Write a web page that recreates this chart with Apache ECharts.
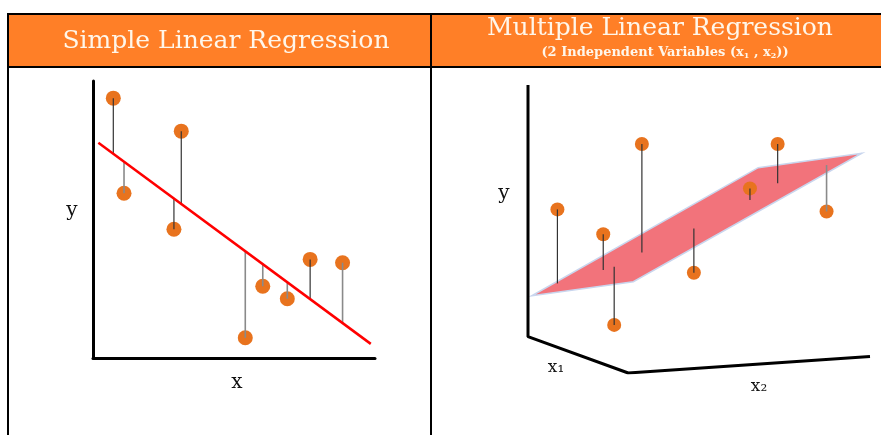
<!DOCTYPE html>
<html>
<head>
<meta charset="utf-8">
<script src="https://cdn.jsdelivr.net/npm/echarts@6/dist/echarts.min.js"></script>
<style>html,body{margin:0;padding:0;background:#fff}#c{width:881px;height:435px}</style>
</head>
<body>
<div id="c"></div>
<script>
// ---------- Simple linear regression (left panel) ----------
var simpleX = [7.2, 11.0, 31.3, 28.7, 54.0, 60.2, 68.9, 77.0, 88.5];
var simpleY = [93.8, 59.5, 81.9, 46.5, 7.3, 25.9, 21.4, 35.6, 34.4];
var simpleResidDark = [true, false, true, true, false, false, false, true, false];
var fitX = [1.9, 98.5];
var fitY = [77.7, 5.1];

// ---------- Multiple linear regression (right panel, projected view units) ----------
var axes3dX = [0, 0, 29.3, 100];
var axes3dY = [100, 12.6, 0, 5.7];
var planeX = [1.1, 30.8, 97.6, 67.3];
var planeY = [26.8, 31.7, 76.3, 71.3];
var multiX = [8.6, 22.0, 33.3, 25.2, 48.5, 64.9, 73.0, 87.3];
var multiY = [56.8, 48.2, 79.5, 16.7, 34.8, 64.1, 79.5, 56.1];
var multiFootY = [31.1, 35.8, 41.8, 36.9, 50.2, 60.1, 65.9, 72.2];

var titleLeft = 'Simple Linear Regression';
var titleRight = 'Multiple Linear Regression';
var subtitleRight = '(2 Independent Variables (x{s|1} , x{s|2}))';

var ORANGE = '#FF7F27';
var DOT = '#E8731E';
var fitSlope = (fitY[1] - fitY[0]) / (fitX[1] - fitX[0]);
function fitAt(x) { return fitY[0] + fitSlope * (x - fitX[0]); }

var simpleDots = simpleX.map(function (x, i) { return [x, simpleY[i]]; });
var simpleResid = simpleX.map(function (x, i) { return [x, simpleY[i], fitAt(x), simpleResidDark[i] ? 1 : 0]; });
var multiDots = multiX.map(function (x, i) { return [x, multiY[i]]; });
var multiResid = multiX.map(function (x, i) { return [x, multiY[i], multiFootY[i], i === 7 ? 0 : 1]; });
var planeData = planeX.map(function (x, i) { return [x, planeY[i]]; });
var axesData = axes3dX.map(function (x, i) { return [x, axes3dY[i]]; });

function residRender(params, api) {
  var p1 = api.coord([api.value(0), api.value(1)]);
  var p2 = api.coord([api.value(0), api.value(2)]);
  var dark = api.value(3) === 1;
  return {
    type: 'line',
    shape: { x1: p1[0], y1: p1[1], x2: p2[0], y2: p2[1] },
    style: { stroke: dark ? '#333' : '#8a8a8a', lineWidth: dark ? 1.2 : 1.6 }
  };
}

var chart = echarts.init(document.getElementById('c'), null, { renderer: 'canvas' });
var serif = '"DejaVu Serif", serif';
var CREAM = '#FFF6EA';
chart.setOption({
  animation: false,
  backgroundColor: '#fff',
  graphic: [
    { type: 'rect', shape: { x: 8, y: 14, width: 880, height: 53 }, style: { fill: ORANGE, stroke: '#000', lineWidth: 2 }, z: 0 },
    { type: 'line', shape: { x1: 8, y1: 14, x2: 8, y2: 440 }, style: { stroke: '#000', lineWidth: 2 } },
    { type: 'line', shape: { x1: 431, y1: 14, x2: 431, y2: 440 }, style: { stroke: '#000', lineWidth: 2 } },
    { type: 'text', x: 226, y: 41, style: { text: titleLeft, fill: CREAM, font: '25px ' + serif, textAlign: 'center', textVerticalAlign: 'middle' } },
    { type: 'text', x: 660, y: 28, style: { text: titleRight, fill: CREAM, font: '25px ' + serif, textAlign: 'center', textVerticalAlign: 'middle' } },
    { type: 'text', x: 665, y: 53, style: { text: subtitleRight, fill: CREAM, fontFamily: serif, fontWeight: 'bold', fontSize: 13, align: 'center', verticalAlign: 'middle',
        rich: { s: { fontFamily: serif, fontWeight: 'bold', fontSize: 8, fill: CREAM, padding: [6, 0, 0, 0] } } } },
    { type: 'text', x: 72, y: 211, style: { text: 'y', fill: '#111', font: '20px ' + serif, textAlign: 'center', textVerticalAlign: 'middle' } },
    { type: 'text', x: 237, y: 383, style: { text: 'x', fill: '#111', font: '20px ' + serif, textAlign: 'center', textVerticalAlign: 'middle' } },
    { type: 'text', x: 504, y: 194, style: { text: 'y', fill: '#111', font: '20px ' + serif, textAlign: 'center', textVerticalAlign: 'middle' } },
    { type: 'text', x: 556, y: 368, style: { text: 'x\u2081', fill: '#111', font: '17px ' + serif, textAlign: 'center', textVerticalAlign: 'middle' } },
    { type: 'text', x: 759, y: 387, style: { text: 'x\u2082', fill: '#111', font: '17px ' + serif, textAlign: 'center', textVerticalAlign: 'middle' } }
  ],
  grid: [
    { left: 93, top: 81, width: 282, height: 277 },
    { left: 528, top: 85, width: 342, height: 288 }
  ],
  xAxis: [
    { gridIndex: 0, type: 'value', min: 0, max: 100, axisLine: { onZero: false, lineStyle: { color: '#000', width: 3 } }, axisTick: { show: false }, axisLabel: { show: false }, splitLine: { show: false } },
    { gridIndex: 1, type: 'value', min: 0, max: 100, show: false }
  ],
  yAxis: [
    { gridIndex: 0, type: 'value', min: 0, max: 100, axisLine: { onZero: false, lineStyle: { color: '#000', width: 3 } }, axisTick: { show: false }, axisLabel: { show: false }, splitLine: { show: false } },
    { gridIndex: 1, type: 'value', min: 0, max: 100, show: false }
  ],
  series: [
    { type: 'scatter', xAxisIndex: 0, yAxisIndex: 0, data: simpleDots, symbolSize: 15, itemStyle: { color: DOT, opacity: 1 }, z: 2 },
    { type: 'custom', xAxisIndex: 0, yAxisIndex: 0, data: simpleResid, renderItem: residRender, z: 3 },
    { type: 'line', xAxisIndex: 0, yAxisIndex: 0, data: fitX.map(function (x, i) { return [x, fitY[i]]; }), showSymbol: false, symbol: 'none', lineStyle: { color: '#FF0000', width: 2.5 }, z: 4 },
    { type: 'line', xAxisIndex: 1, yAxisIndex: 1, data: axesData, symbol: 'none', lineStyle: { color: '#000', width: 3 }, z: 1 },
    { type: 'custom', xAxisIndex: 1, yAxisIndex: 1, data: [0],
      renderItem: function (params, api) {
        var pts = planeData.map(function (p) { return api.coord(p); });
        return { type: 'polygon', shape: { points: pts }, style: { fill: '#F2737B', stroke: '#C9D6EE', lineWidth: 1.5 } };
      }, z: 1 },
    { type: 'scatter', xAxisIndex: 1, yAxisIndex: 1, data: multiDots, symbolSize: 14, itemStyle: { color: DOT, opacity: 1 }, z: 2 },
    { type: 'custom', xAxisIndex: 1, yAxisIndex: 1, data: multiResid, renderItem: residRender, z: 3 }
  ]
});
</script>
</body>
</html>
